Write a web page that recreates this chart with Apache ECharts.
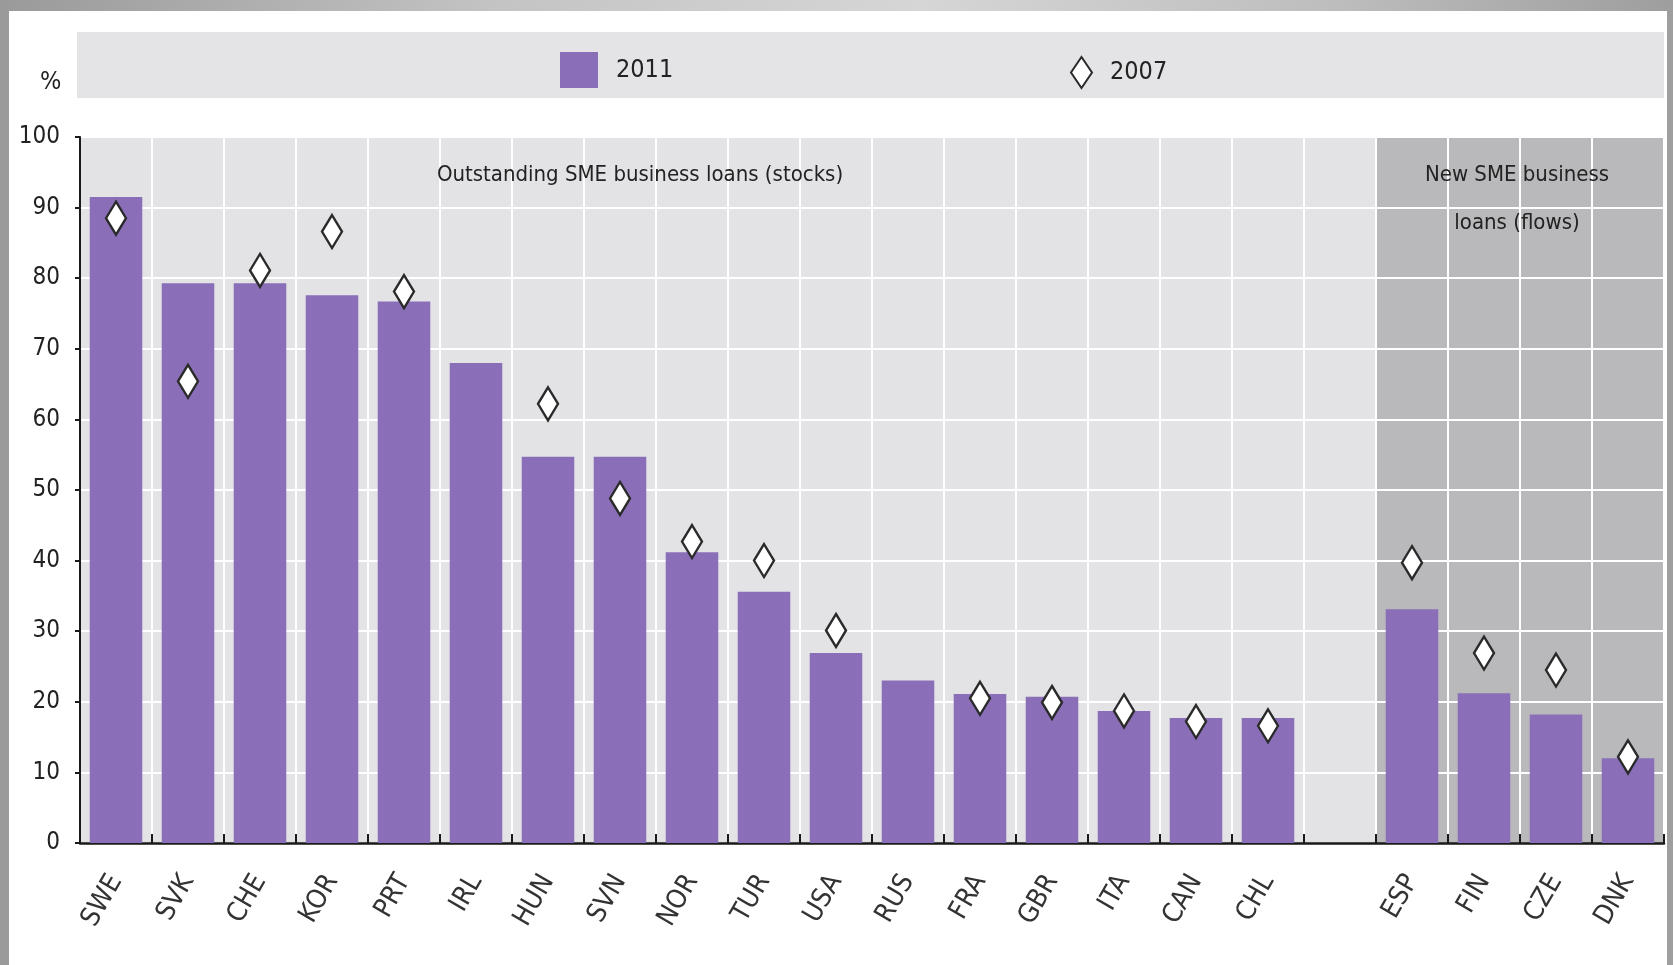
<!DOCTYPE html>
<html><head><meta charset="utf-8">
<script src="https://cdn.jsdelivr.net/npm/echarts@6/dist/echarts.min.js"></script>
<style>
html,body{margin:0;padding:0;width:1673px;height:965px;overflow:hidden;}
body{background:linear-gradient(to right,#9a9a9a 0%,#c4c4c4 30%,#d6d6d6 55%,#bdbdbd 80%,#9e9e9e 100%);}
#frame{position:absolute;left:9px;top:11px;width:1658px;height:954px;background:#fff;}
#chart{width:1658px;height:954px;}
</style></head>
<body><div id="frame"><div id="chart"></div></div>
<script>
const categories = ['SWE','SVK','CHE','KOR','PRT','IRL','HUN','SVN','NOR','TUR','USA','RUS','FRA','GBR','ITA','CAN','CHL','','ESP','FIN','CZE','DNK'];
const values2011 = [91.5,79.3,79.3,77.6,76.7,68.0,54.7,54.7,41.2,35.6,26.9,23.0,21.1,20.7,18.7,17.7,17.7,null,33.1,21.2,18.2,12.0];
const values2007 = [88.5,65.4,81.1,86.6,78.1,null,62.2,48.8,42.7,40.0,30.1,null,20.5,19.9,18.7,17.2,16.6,null,39.7,26.9,24.5,12.2];
const flowCountries = ['ESP','FIN','CZE','DNK'];
const seriesNames = ['2011','2007'];
const yUnit = '%';
const stocksLabel = 'Outstanding SME business loans (stocks)';
const flowsLabel = 'New SME business\nloans (flows)';

const NARROW = "'Liberation Sans Narrow','DejaVu Sans Condensed','Arial Narrow','Liberation Sans',sans-serif";
const BAR = '#8a6fb8';
const bandColors = categories.map(c => flowCountries.includes(c) ? '#b9b9bb' : '#e3e3e6');

const chart = echarts.init(document.getElementById('chart'), null, {renderer:'canvas'});
chart.setOption({
  animation:false,
  backgroundColor:'#ffffff',
  textStyle:{fontFamily:NARROW},
  grid:{left:71, right:3, top:126, bottom:122, containLabel:false},
  legend:[
    {left:546, top:36, itemWidth:38, itemHeight:36, selectedMode:false,
     data:[{name:seriesNames[0], icon:'rect'}],
     textStyle:{fontFamily:NARROW, fontSize:25, color:'#222', padding:[0,0,0,13]}},
    {left:1056, top:40, itemWidth:21, itemHeight:31, selectedMode:false,
     data:[{name:seriesNames[1], icon:'diamond'}],
     textStyle:{fontFamily:NARROW, fontSize:25, color:'#222', padding:[0,0,0,13]}}
  ],
  graphic:[
    {type:'rect', left:68, top:21, shape:{width:1587, height:66}, style:{fill:'#e4e4e6'}, z:-10, silent:true},
    {type:'text', left:31, top:59, style:{text:yUnit, font:"25px "+NARROW, fill:'#222'}, silent:true},
    {type:'text', x:631, y:164, style:{text:stocksLabel, font:"22px "+NARROW, fill:'#222', align:'center', verticalAlign:'middle'}, silent:true, z:10},
    {type:'text', x:1508, y:188, style:{text:flowsLabel, font:"22px "+NARROW, fill:'#222', align:'center', verticalAlign:'middle', lineHeight:48}, silent:true, z:10}
  ],
  xAxis:{
    type:'category', data:categories, boundaryGap:true, z:0,
    axisLine:{show:true, onZero:false, lineStyle:{color:'#1a1a1a', width:2.5}},
    axisTick:{show:true, inside:true, length:9, interval:0, lineStyle:{color:'#1a1a1a', width:2}},
    axisLabel:{interval:0, rotate:60, fontFamily:NARROW, fontSize:27, color:'#333', margin:34},
    splitLine:{show:true, interval:0, lineStyle:{color:'#ffffff', width:2}},
    splitArea:{show:true, interval:0, areaStyle:{color:bandColors}}
  },
  yAxis:{
    type:'value', min:0, max:100, interval:10, z:1,
    axisLine:{show:true, lineStyle:{color:'#1a1a1a', width:2}},
    axisTick:{show:true, length:5, lineStyle:{color:'#1a1a1a', width:2}},
    axisLabel:{fontFamily:NARROW, fontSize:24, color:'#222', margin:20},
    splitLine:{show:true, showMinLine:false, lineStyle:{color:'#ffffff', width:2}}
  },
  series:[
    {name:seriesNames[0], type:'bar', data:values2011, barWidth:'73%', z:2,
     itemStyle:{color:BAR}},
    {name:seriesNames[1], type:'scatter', data:values2007, symbol:'diamond', symbolSize:[20,33], z:3,
     itemStyle:{color:'#ffffff', borderColor:'#2a2a2a', borderWidth:2.5, opacity:1}}
  ]
});
</script>
</body></html>
